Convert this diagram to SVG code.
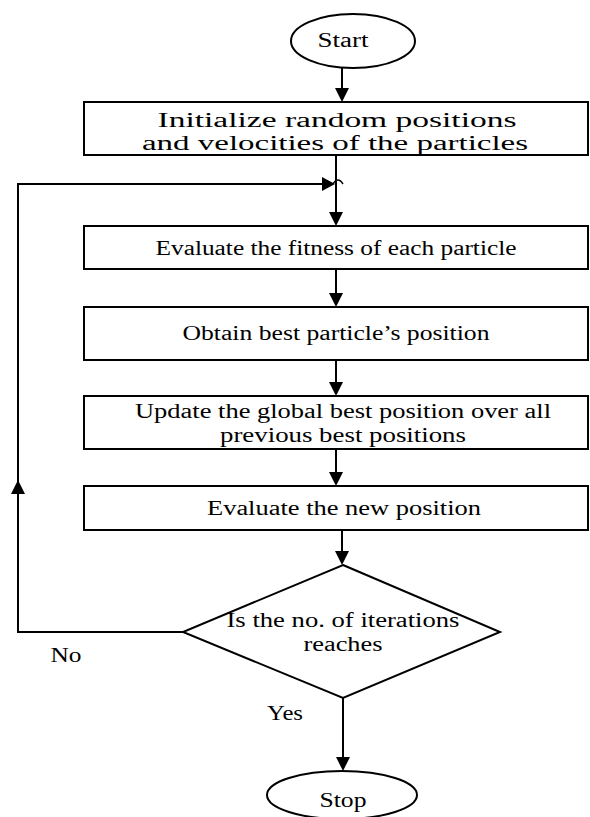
<svg xmlns="http://www.w3.org/2000/svg" width="590" height="817" viewBox="0 0 590 817">
<style>
.s{fill:#fff;stroke:#000;stroke-width:2}
.t{font-family:"Liberation Serif","Times New Roman",serif;font-size:20px;fill:#000;text-anchor:middle}
.c{fill:none;stroke:#000;stroke-width:2}
.h{fill:#000;stroke:none}
</style>
<rect width="590" height="817" fill="#fff"/>
<g id="connectors">
<line class="c" x1="342" y1="68" x2="342" y2="88"/>
<polygon class="h" points="335,88 349,88 342,102"/>
<line class="c" x1="336" y1="155" x2="336" y2="212"/>
<polygon class="h" points="329,212 343,212 336,226"/>
<line class="c" x1="336" y1="269" x2="336" y2="293"/>
<polygon class="h" points="329,293 343,293 336,307"/>
<line class="c" x1="336" y1="360" x2="336" y2="382"/>
<polygon class="h" points="329,382 343,382 336,396"/>
<line class="c" x1="336" y1="449" x2="336" y2="472"/>
<polygon class="h" points="329,472 343,472 336,486"/>
<line class="c" x1="342" y1="530" x2="342" y2="551"/>
<polygon class="h" points="335,551 349,551 342,565"/>
<line class="c" x1="343" y1="698" x2="343" y2="757"/>
<polygon class="h" points="336,757 350,757 343,771"/>
<polyline class="c" points="183,632 18,632 18,184 322,184"/>
<polygon class="h" points="11,494 25,494 18,480"/>
<polygon class="h" points="322,177 322,191 335,184"/>
<path class="c" d="M333,184 Q338,176 343,184" style="stroke-width:1.5"/>
<text class="t" x="66" y="662" textLength="31" lengthAdjust="spacingAndGlyphs">No</text>
<text class="t" x="285" y="720" textLength="36" lengthAdjust="spacingAndGlyphs">Yes</text>
</g>
<g id="start">
<ellipse class="s" cx="353" cy="41" rx="62" ry="27"/>
<text class="t" x="343" y="47" textLength="51" lengthAdjust="spacingAndGlyphs">Start</text>
</g>
<g id="init">
<rect class="s" x="84" y="102" width="504" height="53"/>
<text class="t" x="337" y="127" textLength="359" lengthAdjust="spacingAndGlyphs">Initialize random positions</text>
<text class="t" x="335" y="150" textLength="386" lengthAdjust="spacingAndGlyphs">and velocities of the particles</text>
</g>
<g id="fitness">
<rect class="s" x="84" y="226" width="504" height="43"/>
<text class="t" x="336" y="255" textLength="361" lengthAdjust="spacingAndGlyphs">Evaluate the fitness of each particle</text>
</g>
<g id="best">
<rect class="s" x="84" y="307" width="504" height="53"/>
<text class="t" x="336" y="340" textLength="307" lengthAdjust="spacingAndGlyphs">Obtain best particle’s position</text>
</g>
<g id="global">
<rect class="s" x="84" y="396" width="504" height="53"/>
<text class="t" x="343" y="418" textLength="416" lengthAdjust="spacingAndGlyphs">Update the global best position over all</text>
<text class="t" x="343" y="442" textLength="246" lengthAdjust="spacingAndGlyphs">previous best positions</text>
</g>
<g id="newpos">
<rect class="s" x="84" y="486" width="504" height="44"/>
<text class="t" x="344" y="515" textLength="274" lengthAdjust="spacingAndGlyphs">Evaluate the new position</text>
</g>
<g id="decision">
<polygon class="s" points="343,565 500,632 343,698 183,632"/>
<text class="t" x="343" y="627" textLength="233" lengthAdjust="spacingAndGlyphs">Is the no. of iterations</text>
<text class="t" x="343" y="651" textLength="79" lengthAdjust="spacingAndGlyphs">reaches</text>
</g>
<g id="stop">
<ellipse class="s" cx="342" cy="795" rx="75" ry="24"/>
<text class="t" x="343" y="807" textLength="47" lengthAdjust="spacingAndGlyphs">Stop</text>
</g>
</svg>
